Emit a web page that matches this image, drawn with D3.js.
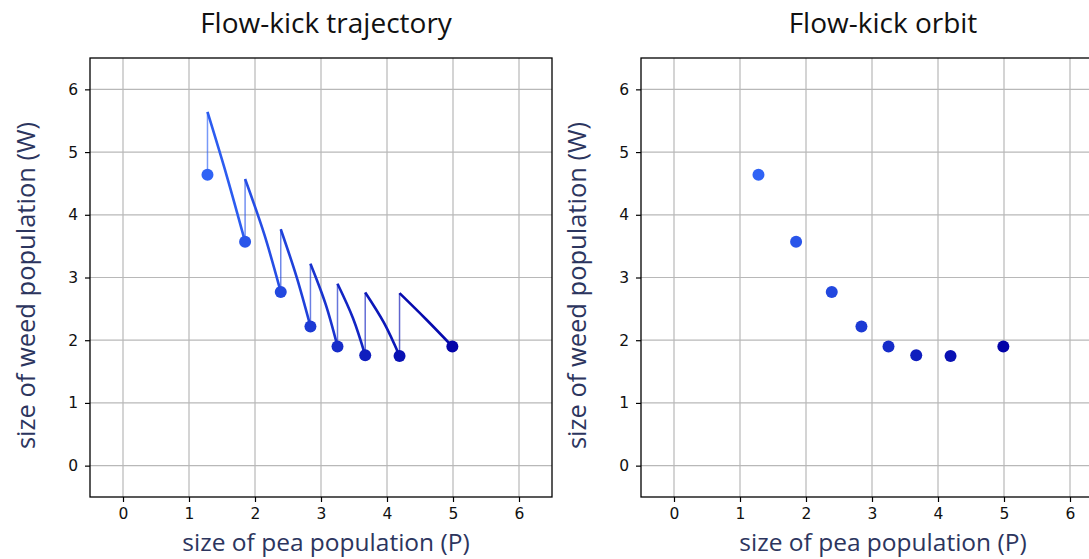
<!DOCTYPE html>
<html>
<head>
<meta charset="utf-8">
<script src="https://cdn.jsdelivr.net/npm/d3@7"></script>
<style>
  html, body { margin: 0; padding: 0; background: #fff; }
  svg { display: block; }
</style>
</head>
<body>
<svg id="chart" width="1089" height="559"></svg>
<script>
// State after each kick-and-flow cycle: pea population P and weed population W
const peaP  = [1.28, 1.85, 2.39, 2.84, 3.25, 3.67, 4.19, 4.99];
const weedW = [4.64, 3.57, 2.77, 2.22, 1.90, 1.76, 1.75, 1.90];
// Weed level right after each kick (start of the next flow)
const kickW = [5.64, 4.57, 3.77, 3.22, 2.90, 2.76, 2.75];
// One interior point along each flow segment
const flowMidP = [1.575, 2.14, 2.63, 3.07, 3.485, 3.955, 4.595];
const flowMidW = [4.61, 3.69, 3.01, 2.575, 2.35, 2.275, 2.33];
// Axis ticks
const tickValues = [0, 1, 2, 3, 4, 5, 6];
const axisDomain = [-0.5, 6.5];
const titles = ["Flow-kick trajectory", "Flow-kick orbit"];
const xLabel = "size of pea population (P)";
const yLabel = "size of weed population (W)";

const svg = d3.select("#chart");
const colorAt = d3.scaleLinear()
  .domain([0, peaP.length - 1])
  .range(["#2f63f5", "#0303a8"])
  .interpolate(d3.interpolateRgb);

const panelW = 462, panelH = 439, panelTop = 58;
const panels = [
  { left: 90, lines: true, textX: 326 },
  { left: 641, lines: false, textX: 883 }
];

panels.forEach((p, i) => {
  const g = svg.append("g").attr("transform", `translate(${p.left},${panelTop})`);
  const x = d3.scaleLinear().domain(axisDomain).range([0, panelW]);
  const y = d3.scaleLinear().domain(axisDomain).range([panelH, 0]);

  // grid
  const grid = g.append("g").attr("stroke", "#b8b8b8").attr("stroke-width", 1.2);
  tickValues.forEach(t => {
    grid.append("line").attr("x1", x(t)).attr("x2", x(t)).attr("y1", 0).attr("y2", panelH);
    grid.append("line").attr("y1", y(t)).attr("y2", y(t)).attr("x1", 0).attr("x2", panelW);
  });

  // axes
  const fmt = d3.format("d");
  const xAxis = g.append("g").attr("transform", `translate(0,${panelH})`)
    .call(d3.axisBottom(x).tickValues(tickValues).tickFormat(fmt).tickSize(5).tickPadding(6).tickSizeOuter(0));
  const yAxis = g.append("g")
    .call(d3.axisLeft(y).tickValues(tickValues).tickFormat(fmt).tickSize(5).tickPadding(7).tickSizeOuter(0));
  [xAxis, yAxis].forEach(a => {
    a.select(".domain").remove();
    a.selectAll(".tick line").attr("stroke", "#000").attr("stroke-width", 1.2);
    a.selectAll(".tick text").attr("fill", "#111")
      .style("font-family", "'DejaVu Sans', sans-serif").style("font-size", "15.5px");
  });

  // frame
  g.append("rect").attr("width", panelW).attr("height", panelH)
    .attr("fill", "none").attr("stroke", "#000").attr("stroke-width", 1.3);

  const plot = g.append("g");

  if (p.lines) {
    const line = d3.line().x(d => x(d[0])).y(d => y(d[1])).curve(d3.curveNatural);
    kickW.forEach((kw, k) => {
      // kick: vertical jump in W
      plot.append("line")
        .attr("x1", x(peaP[k])).attr("x2", x(peaP[k]))
        .attr("y1", y(weedW[k])).attr("y2", y(kw))
        .attr("stroke", colorAt(k)).attr("stroke-opacity", 0.65).attr("stroke-width", 1.5);
      // flow to the next state
      const pts = [[peaP[k], kw], [flowMidP[k], flowMidW[k]], [peaP[k + 1], weedW[k + 1]]];
      plot.append("path").attr("d", line(pts))
        .attr("fill", "none").attr("stroke", colorAt(k + 0.5)).attr("stroke-width", 2.6)
        .attr("stroke-linecap", "butt");
    });
  }

  plot.selectAll("circle").data(peaP).join("circle")
    .attr("cx", d => x(d)).attr("cy", (d, k) => y(weedW[k]))
    .attr("r", 6).attr("fill", (d, k) => colorAt(k));

  // titles and labels
  svg.append("text").attr("x", p.textX).attr("y", 33)
    .attr("text-anchor", "middle").attr("fill", "#111")
    .style("font-family", "'Open Sans', sans-serif").style("font-size", "28px")
    .text(titles[i]);
  svg.append("text").attr("x", p.textX).attr("y", 551)
    .attr("text-anchor", "middle").attr("fill", "#2c355e")
    .style("font-family", "'Open Sans', sans-serif").style("font-size", "24.5px")
    .text(xLabel);
  svg.append("text")
    .attr("transform", `translate(${p.left - 55},${panelTop + panelH / 2 + 8}) rotate(-90)`)
    .attr("text-anchor", "middle").attr("fill", "#2c355e")
    .style("font-family", "'Open Sans', sans-serif").style("font-size", "25.5px")
    .text(yLabel);
});
</script>
</body>
</html>
